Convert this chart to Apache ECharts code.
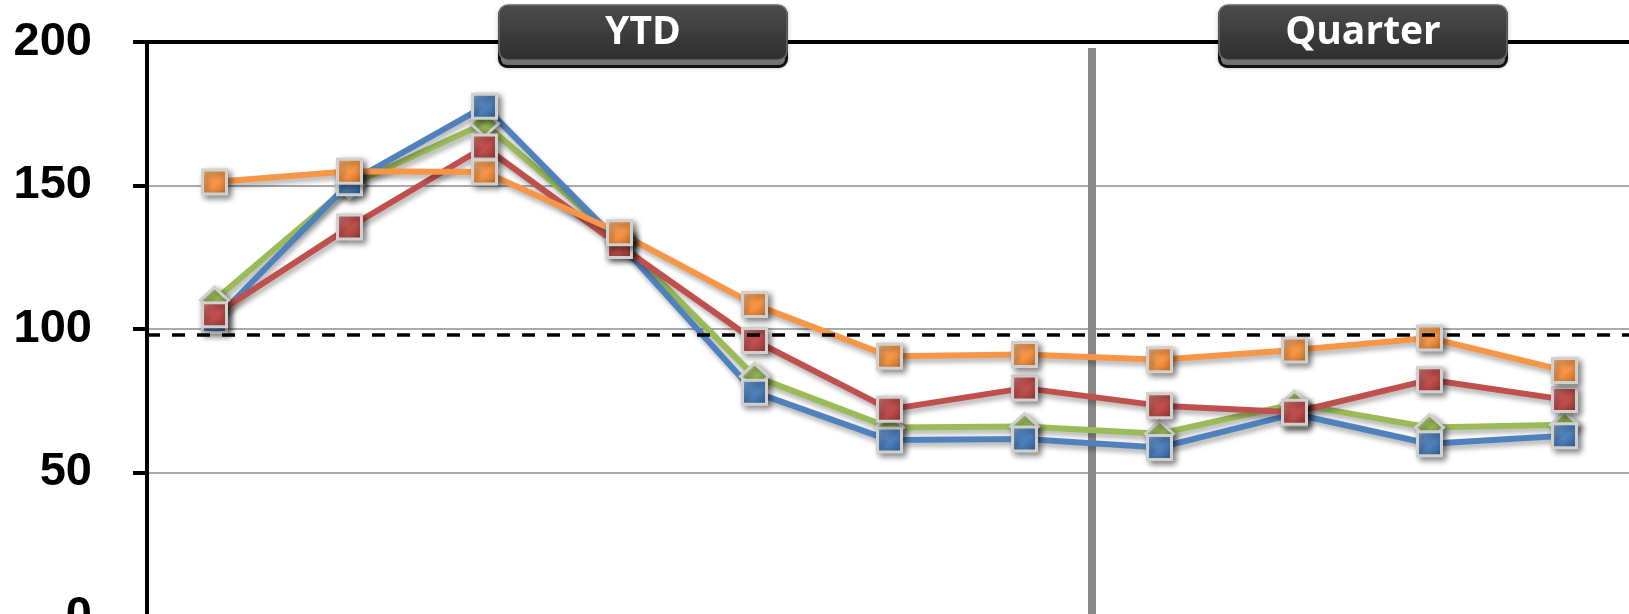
<!DOCTYPE html>
<html>
<head>
<meta charset="utf-8">
<title>YTD and Quarter index</title>
<script src="https://cdn.jsdelivr.net/npm/echarts@6/dist/echarts.min.js"></script>
<style>
  html, body { margin: 0; padding: 0; background: #ffffff; }
  #chart { width: 1629px; height: 614px; }
</style>
</head>
<body>
<div id="chart"></div>
<script>
// Periods: seven year-to-date points followed by four quarterly points
const ytdPeriods = ['P1', 'P2', 'P3', 'P4', 'P5', 'P6', 'P7'];
const quarterPeriods = ['Q1', 'Q2', 'Q3', 'Q4'];
const categories = ytdPeriods.concat(quarterPeriods);

// Index values per series
const blueValues   = [103, 151, 177.6, 130, 78, 61.3, 61.7, 58.7, 70.4, 60, 62.8];
const redValues    = [105, 135.5, 163.4, 129.1, 96, 72, 79.4, 73.3, 71, 82.3, 75.4];
const greenValues  = [110, 150, 171.6, 131, 83.5, 65.7, 66, 63.5, 73.9, 65.7, 66.6];
const orangeValues = [151.2, 155, 154.7, 133.5, 108.5, 90.5, 91.1, 89.3, 92.7, 96.9, 85.5];

// Reference level drawn as a dashed line
const targetLevel = 98;

// Value axis ticks
const yTicks = [0, 50, 100, 150, 200];

const chart = echarts.init(document.getElementById('chart'), null, { renderer: 'canvas' });

function bevel(light, mid, dark) {
  return new echarts.graphic.LinearGradient(0, 0, 1, 1, [
    { offset: 0, color: light },
    { offset: 0.45, color: mid },
    { offset: 0.55, color: mid },
    { offset: 1, color: dark }
  ]);
}

function lineSeries(name, data, color, shades, symbol, size) {
  return {
    name: name,
    type: 'line',
    data: data,
    symbol: symbol,
    symbolSize: size,
    showSymbol: true,
    lineStyle: {
      color: color,
      width: 6,
      shadowColor: 'rgba(0,0,0,0.30)',
      shadowBlur: 5,
      shadowOffsetX: 2,
      shadowOffsetY: 4
    },
    itemStyle: {
      color: bevel(shades[0], shades[1], shades[2]),
      borderColor: '#d0d0d0',
      borderWidth: 3,
      shadowColor: 'rgba(0,0,0,0.45)',
      shadowBlur: 6,
      shadowOffsetX: 3,
      shadowOffsetY: 3
    },
    emphasis: { disabled: true },
    animation: false
  };
}

const series = [
  lineSeries('Series 3', greenValues, '#9bbb59', ['#c4dc8c', '#9bbb59', '#6f8a3a'], 'diamond', [28, 26]),
  lineSeries('Series 1', blueValues, '#4f81bd', ['#8cb0dc', '#4f81bd', '#2c5585'], 'rect', 24),
  lineSeries('Series 2', redValues, '#c0504d', ['#e08a88', '#c0504d', '#862f2d'], 'rect', 24),
  lineSeries('Series 4', orangeValues, '#f79646', ['#fbc28f', '#f79646', '#b8641f'], 'rect', 24)
];

series[0].markLine = {
  silent: true,
  symbol: 'none',
  label: { show: false },
  lineStyle: { color: '#000000', width: 3.5, type: [13, 12] },
  data: [{ yAxis: targetLevel }]
};

const labelFont = '"Open Sans", "Liberation Sans", sans-serif';

// Dark bevelled tab used as a block heading
function headerBox(cx, text) {
  const w = 290;
  const x = cx - w / 2;
  return {
    type: 'group',
    zlevel: 1,
    z: 100,
    silent: true,
    children: [
      { type: 'rect', zlevel: 1, z: 100, shape: { x: x, y: 6, width: w, height: 62, r: 9 },
        style: { fill: '#111111', shadowColor: 'rgba(0,0,0,0.25)', shadowBlur: 4 } },
      { type: 'rect', zlevel: 1, z: 101, shape: { x: x + 3, y: 48, width: w - 6, height: 17, r: [0, 0, 6, 6] },
        style: { fill: new echarts.graphic.LinearGradient(0, 0, 0, 1, [
          { offset: 0, color: '#9a9a9a' }, { offset: 1, color: '#6e6e6e' }]) } },
      { type: 'rect', zlevel: 1, z: 102, shape: { x: x + 1, y: 5, width: w - 2, height: 55, r: 9 },
        style: { fill: new echarts.graphic.LinearGradient(0, 0, 0, 1, [
          { offset: 0, color: '#4c4c4c' }, { offset: 1, color: '#2e2e2e' }]),
          stroke: '#6a6a6a', lineWidth: 1.5 } },
      { type: 'text', zlevel: 1, z: 103, x: cx, y: 33,
        style: { text: text, fill: '#ffffff', font: 'bold 39px ' + labelFont,
          align: 'center', verticalAlign: 'middle' } }
    ]
  };
}

chart.setOption({
  backgroundColor: '#ffffff',
  animation: false,
  grid: {
    left: 147, top: 42, width: 1485, height: 574,
    containLabel: false,
    outerBoundsMode: 'none'
  },
  xAxis: {
    type: 'category',
    data: categories,
    position: 'top',
    boundaryGap: true,
    axisLine: { show: true, onZero: false, lineStyle: { color: '#000000', width: 4 } },
    axisTick: { show: false },
    axisLabel: { show: false },
    splitLine: { show: false }
  },
  yAxis: {
    type: 'value',
    min: yTicks[0],
    max: yTicks[yTicks.length - 1],
    interval: yTicks[1] - yTicks[0],
    axisLine: { show: true, onZero: false, lineStyle: { color: '#000000', width: 4 } },
    axisTick: { show: true, length: 14, lineStyle: { color: '#000000', width: 4 } },
    axisLabel: {
      show: true,
      margin: 55,
      color: '#000000',
      fontFamily: '"Liberation Sans", Arial, sans-serif',
      fontWeight: 'bold',
      fontSize: 47
    },
    splitLine: { show: true, lineStyle: { color: '#8c8c8c', width: 1.5 } }
  },
  series: series
});

// Divider between the year-to-date block and the quarterly block
const xLast = chart.convertToPixel({ xAxisIndex: 0 }, ytdPeriods[ytdPeriods.length - 1]);
const xFirst = chart.convertToPixel({ xAxisIndex: 0 }, quarterPeriods[0]);
const dividerX = (xLast + xFirst) / 2;

chart.setOption({
  graphic: [
    { type: 'rect', z: 1, silent: true,
      shape: { x: dividerX - 4, y: 48, width: 8, height: 620 },
      style: { fill: '#888888' } },
    headerBox(643, 'YTD'),
    headerBox(1363, 'Quarter')
  ]
});
</script>
</body>
</html>
